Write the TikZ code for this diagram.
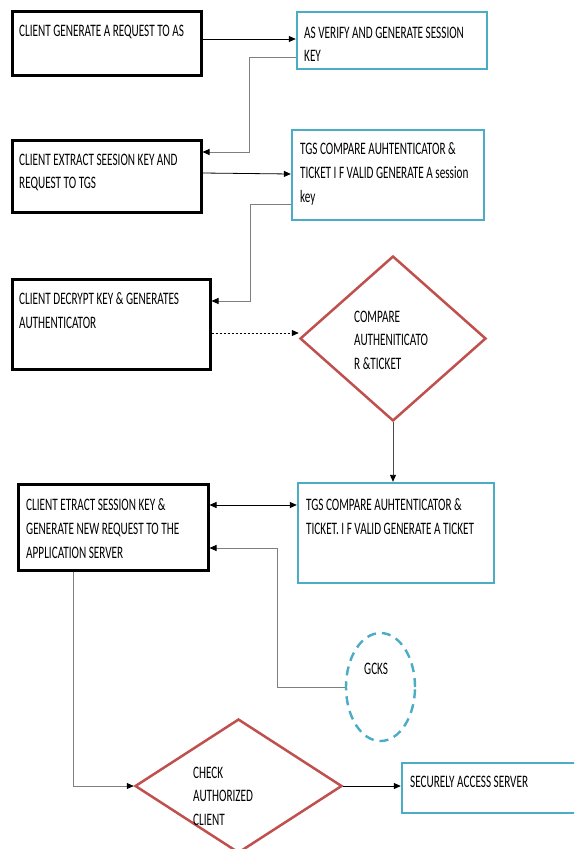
\documentclass[tikz,border=0pt]{standalone}
\usepackage{fontspec}
\setmainfont[FakeStretch=0.64]{Carlito}
\usetikzlibrary{arrows.meta,shapes.geometric}
\definecolor{boxblue}{HTML}{4BACC6}
\definecolor{dred}{HTML}{C0504D}
\definecolor{lgray}{HTML}{7F7F7F}
\begin{document}
\begin{tikzpicture}[x=1pt,y=-1pt,
  blackbox/.style={draw=black, line width=3pt, rectangle, inner sep=0pt},
  bluebox/.style={draw=boxblue, line width=2.4pt, rectangle, inner sep=0pt},
  decision/.style={diamond, draw=dred, line width=2.5pt, inner sep=0pt},
  gcksshape/.style={ellipse, draw=boxblue, line width=2.4pt, dash pattern=on 9pt off 6pt, inner sep=0pt},
  txt/.style={anchor=north west, align=left, inner sep=0pt, font=\fontsize{17.5}{23.7}\selectfont},
  conn/.style={line width=0.8pt, -{Triangle[length=7pt,width=6pt]}},
  dconn/.style={line width=0.8pt, {Triangle[length=7pt,width=6pt]}-{Triangle[length=7pt,width=6pt]}},
  gconn/.style={draw=lgray, line width=0.9pt, -{Triangle[length=7pt,width=6pt,color=black]}}
]
\useasboundingbox (0,0) rectangle (574,849);
\clip (0,0) rectangle (574,849);
\fill[white] (0,0) rectangle (574,849);

% boxes
\node[blackbox, minimum width=189pt, minimum height=64pt] (b1) at (106.5,43) {};
\node[bluebox, minimum width=190pt, minimum height=57pt] (b2) at (392,40.5) {};
\node[blackbox, minimum width=189pt, minimum height=72pt] (b4) at (106.5,176) {};
\node[bluebox, minimum width=192pt, minimum height=90pt] (b5) at (388,175) {};
\node[blackbox, minimum width=198pt, minimum height=90pt] (b7) at (111,324) {};
\node[decision, minimum width=186pt, minimum height=165pt] (d1) at (393,338.5) {};
\node[blackbox, minimum width=190pt, minimum height=86pt] (b8) at (113,527) {};
\node[bluebox, minimum width=196pt, minimum height=100pt] (b9) at (396,533) {};
\node[gcksshape, minimum width=69pt, minimum height=108pt] (gcks) at (380.5,687) {};
\node[decision, minimum width=207pt, minimum height=134pt] (d2) at (238.5,786) {};
\node[bluebox, minimum width=188pt, minimum height=50pt] (b10) at (496,788) {};

% texts
\node[txt] (t1) at (19,24.5) {CLIENT GENERATE A REQUEST TO AS};
\node[txt] (t2) at (304,26.5) {AS VERIFY AND GENERATE SESSION\\KEY};
\node[txt] (t4) at (19,153.5) {CLIENT EXTRACT SEESION KEY AND\\REQUEST TO TGS};
\node[txt] (t5) at (300,142.5) {TGS COMPARE AUHTENTICATOR \&\\TICKET I F VALID GENERATE A session\\key};
\node[txt] (t7) at (19,292.5) {CLIENT DECRYPT KEY \& GENERATES\\AUTHENTICATOR};
\node[txt] (td1) at (354,310.5) {COMPARE\\AUTHENITICATO\\R \&TICKET};
\node[txt] (t8) at (26,498.5) {CLIENT ETRACT SESSION KEY \&\\GENERATE NEW REQUEST TO THE\\APPLICATION SERVER};
\node[txt] (t9) at (306,498.5) {TGS COMPARE AUHTENTICATOR \&\\TICKET. I F VALID GENERATE A TICKET};
\node[txt] (tg) at (364,662.5) {GCKS};
\node[txt] (td2) at (193,766.5) {CHECK\\AUTHORIZED\\CLIENT};
\node[txt] (t10) at (410,775.5) {SECURELY ACCESS SERVER};

% connectors
\draw[conn] (b1.east |- 0,39) -- (b2.west |- 0,39);
\draw[gconn] (b2.west |- 0,57) -| (249,152) -- (b4.east |- 0,152);
\draw[conn] (b4.east |- 0,173) -- (b5.west |- 0,174);
\draw[gconn] (b5.west |- 0,204) -| (250,301) -- (b7.east |- 0,301);
\draw[conn, dash pattern=on 2pt off 2pt] (b7.east |- 0,333) -- (d1.west |- 0,333);
\draw[gconn, draw=black!70] (d1.south) -- (d1.south |- b9.north);
\draw[dconn] (b8.east |- 0,505) -- (b9.west |- 0,505);
\draw[gconn] (gcks.west) -| (277,548) -- (b8.east |- 0,548);
\draw[gconn] (b8.south -| 73,0) |- (d2.west);
\draw[conn] (d2.east) -- (b10.west |- d2.east);
\end{tikzpicture}
\end{document}
